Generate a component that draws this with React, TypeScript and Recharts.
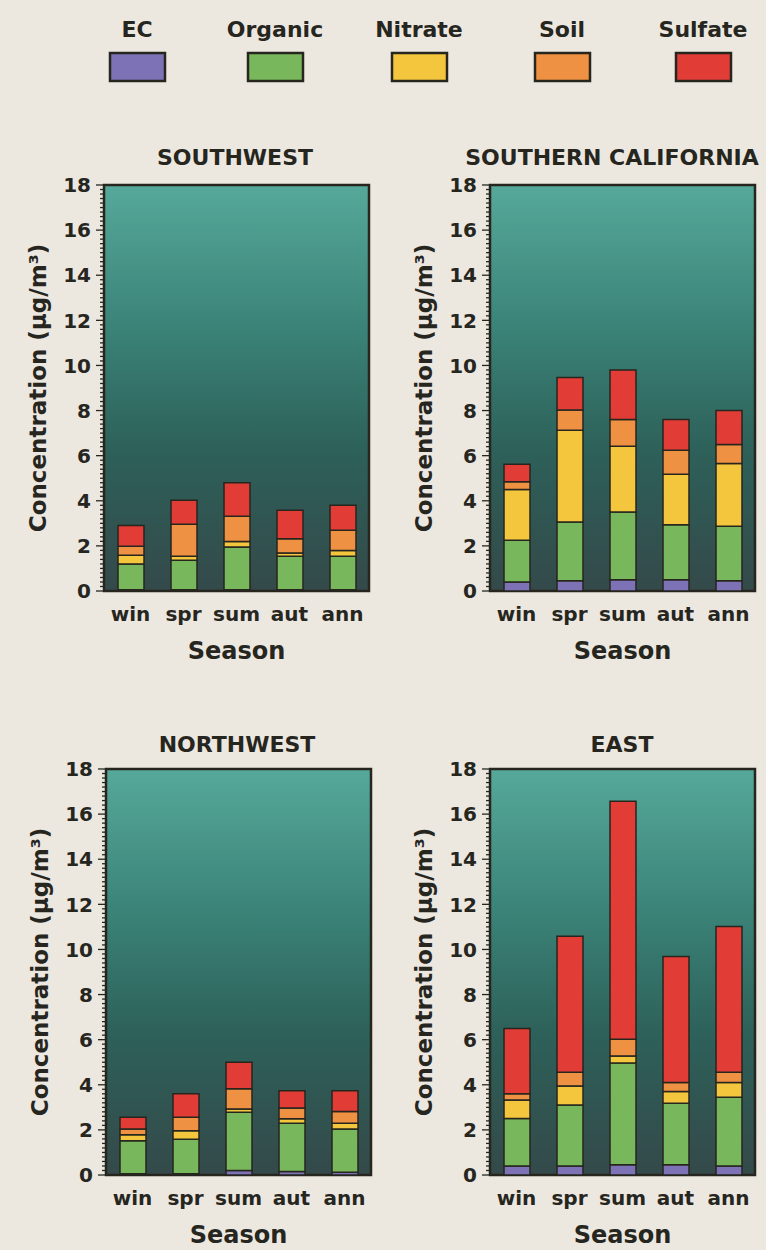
import React from 'react';
import { BarChart, Bar, XAxis, YAxis, CartesianGrid, ReferenceArea } from 'recharts';

const SEASONS = ['win', 'spr', 'sum', 'aut', 'ann'];
const SPECIES = ['EC', 'Organic', 'Nitrate', 'Soil', 'Sulfate'];
const COLORS = ['#7d72b6', '#78b75b', '#f4c63e', '#ee9142', '#e23c37'];
const Y_LABELS = [0, 2, 4, 6, 8, 10, 12, 14, 16, 18];

// segment heights, µg/m3, in season order
const SW_EC = [0.05, 0.05, 0.05, 0.05, 0.05];
const SW_ORG = [1.15, 1.31, 1.9, 1.49, 1.49];
const SW_NIT = [0.38, 0.18, 0.25, 0.15, 0.26];
const SW_SOIL = [0.4, 1.42, 1.11, 0.63, 0.89];
const SW_SULF = [0.92, 1.06, 1.49, 1.26, 1.11];

const SC_EC = [0.4, 0.45, 0.5, 0.5, 0.45];
const SC_ORG = [1.85, 2.61, 3.0, 2.44, 2.42];
const SC_NIT = [2.25, 4.07, 2.92, 2.24, 2.78];
const SC_SOIL = [0.34, 0.89, 1.18, 1.06, 0.85];
const SC_SULF = [0.78, 1.45, 2.2, 1.36, 1.5];

const NW_EC = [0.05, 0.05, 0.2, 0.15, 0.12];
const NW_ORG = [1.47, 1.54, 2.58, 2.14, 1.92];
const NW_NIT = [0.26, 0.37, 0.15, 0.2, 0.25];
const NW_SOIL = [0.26, 0.6, 0.89, 0.48, 0.53];
const NW_SULF = [0.52, 1.04, 1.18, 0.77, 0.92];

const E_EC = [0.4, 0.4, 0.45, 0.45, 0.4];
const E_ORG = [2.11, 2.7, 4.51, 2.73, 3.05];
const E_NIT = [0.82, 0.85, 0.32, 0.52, 0.65];
const E_SOIL = [0.27, 0.6, 0.74, 0.4, 0.46];
const E_SULF = [2.9, 6.03, 10.55, 5.59, 6.46];

const FONT = "'DejaVu Sans', 'Liberation Sans', sans-serif";
const INK = '#26261f';
const PAGE = '#ece8e0';
const PLOT_W = 265;
const PLOT_H = 406;
const YW = 104;
const TOP = 22;

// ruler ticks every 0.2 along the y axis
const RULER: number[] = [];
for (let i = 0; i <= 90; i++) RULER.push(i / 5);

function RulerTick(props: any) {
  const { x, y, payload } = props;
  const major = Y_LABELS.includes(payload.value);
  return (
    <g>
      <line x1={x} x2={x - (major ? 8 : 4)} y1={y} y2={y} stroke={INK} strokeWidth={1.3} />
      {major && (
        <text x={x - 13} y={y} dy="0.36em" textAnchor="end" fontFamily={FONT} fontWeight="bold" fontSize={20} fill={INK}>
          {payload.value}
        </text>
      )}
    </g>
  );
}

function SeasonTick(props: any) {
  const { x, y, payload } = props;
  return (
    <text x={x} y={y + 30} textAnchor="middle" fontFamily={FONT} fontWeight="bold" fontSize={20} fill={INK}>
      {payload.value}
    </text>
  );
}

function ConcLabel(props: any) {
  const vb = props.viewBox || props;
  const x = vb.x + vb.width - 58;
  const y = vb.y + vb.height / 2;
  return (
    <text x={x} y={y} transform={`rotate(-90 ${x} ${y})`} textAnchor="middle" fontFamily={FONT} fontWeight="bold" fontSize={23} fill={INK}>
      Concentration (µg/m³)
    </text>
  );
}

function SeasonLabel(props: any) {
  const vb = props.viewBox || props;
  return (
    <text x={vb.x + vb.width / 2} y={vb.y + 68} textAnchor="middle" fontFamily={FONT} fontWeight="bold" fontSize={24} fill={INK}>
      Season
    </text>
  );
}

function Panel({ id, left, top, series }: { id: string; left: number; top: number; series: number[][] }) {
  const rows = SEASONS.map((s, i) => {
    const row: any = { season: s };
    SPECIES.forEach((k, j) => (row[k] = series[j][i]));
    return row;
  });
  return (
    <div style={{ position: 'absolute', left: left - YW, top: top - TOP }}>
      <BarChart width={YW + PLOT_W + 12} height={TOP + PLOT_H + 90} data={rows} margin={{ top: TOP, right: 12, bottom: 0, left: 0 }} barSize={26}>
        <defs>
          <linearGradient id={id} x1="0" y1="0" x2="0" y2="1">
            <stop offset="0%" stopColor="#56a99a" />
            <stop offset="35%" stopColor="#3b8378" />
            <stop offset="65%" stopColor="#2d6159" />
            <stop offset="100%" stopColor="#34494a" />
          </linearGradient>
        </defs>
        <CartesianGrid horizontal={false} vertical={false} fill={`url(#${id})`} fillOpacity={1} />
        <XAxis dataKey="season" height={90} axisLine={false} tickLine={false} tickSize={0} tickMargin={0} interval={0} tick={<SeasonTick />} label={<SeasonLabel />} />
        <YAxis type="number" domain={[0, 18]} ticks={RULER} interval={0} width={YW} axisLine={false} tickLine={false} tickSize={0} tickMargin={0} tick={<RulerTick />} label={<ConcLabel />} />
        {SPECIES.map((k, i) => (
          <Bar key={k} dataKey={k} stackId="s" fill={COLORS[i]} stroke={INK} strokeWidth={1.5} isAnimationActive={false} />
        ))}
        <ReferenceArea y1={0} y2={18} fill="none" stroke={INK} strokeWidth={2.5} />
      </BarChart>
    </div>
  );
}

const LEGEND_X = [137, 275, 419, 562, 703];

export default function App() {
  return (
    <div style={{ position: 'absolute', left: 0, top: 0, width: 766, height: 1250, background: PAGE, overflow: 'hidden' }}>
      <svg width={766} height={1250} style={{ position: 'absolute', left: 0, top: 0 }}>
        {SPECIES.map((k, i) => (
          <g key={k}>
            <text x={LEGEND_X[i]} y={37} textAnchor="middle" fontFamily={FONT} fontWeight="bold" fontSize={22} fill={INK}>{k}</text>
            <rect x={LEGEND_X[i] - 27} y={53} width={55} height={28} fill={COLORS[i]} stroke={INK} strokeWidth={2.5} />
          </g>
        ))}
        <text x={235} y={165} textAnchor="middle" fontFamily={FONT} fontWeight="bold" fontSize={22} fill={INK}>SOUTHWEST</text>
        <text x={612} y={165} textAnchor="middle" fontFamily={FONT} fontWeight="bold" fontSize={22} fill={INK}>SOUTHERN CALIFORNIA</text>
        <text x={237} y={752} textAnchor="middle" fontFamily={FONT} fontWeight="bold" fontSize={22} fill={INK}>NORTHWEST</text>
        <text x={622} y={752} textAnchor="middle" fontFamily={FONT} fontWeight="bold" fontSize={22} fill={INK}>EAST</text>
      </svg>
      <Panel id="bgSW" left={104} top={185} series={[SW_EC, SW_ORG, SW_NIT, SW_SOIL, SW_SULF]} />
      <Panel id="bgSC" left={490} top={185} series={[SC_EC, SC_ORG, SC_NIT, SC_SOIL, SC_SULF]} />
      <Panel id="bgNW" left={106} top={769} series={[NW_EC, NW_ORG, NW_NIT, NW_SOIL, NW_SULF]} />
      <Panel id="bgE" left={490} top={769} series={[E_EC, E_ORG, E_NIT, E_SOIL, E_SULF]} />
    </div>
  );
}
